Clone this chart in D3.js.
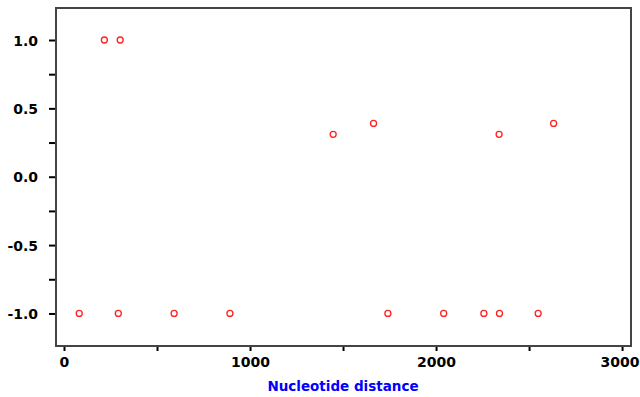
<!DOCTYPE html>
<html>
<head>
<meta charset="utf-8">
<script src="https://cdn.jsdelivr.net/npm/d3@7"></script>
<style>
  body { margin: 0; background: #fff; }
  .tick text { font-family: "DejaVu Sans", sans-serif; font-weight: bold; font-size: 14px; fill: #000; }
</style>
</head>
<body>
<script>
// nucleotide distance vs. value
var distances = [82, 217, 302, 292, 592, 892, 1447, 1664, 1741, 2041, 2257, 2341, 2339, 2549, 2632];
var values    = [-1, 1, 1, -1, -1, -1, 0.31, 0.39, -1, -1, -1, -1, 0.31, -1, 0.39];
var xTicks = [0, 500, 1000, 1500, 2000, 2500, 3000];
var yTicks = [-1, -0.75, -0.5, -0.25, 0, 0.25, 0.5, 0.75, 1];
var xLabel = "Nucleotide distance";

const margins = {top: 8, right: 9, bottom: 51, left: 56},
    width = 640 - margins.left - margins.right,
    height = 397 - margins.top - margins.bottom;

var svg = d3.select("body").append("svg")
    .attr("width", 640)
    .attr("height", 397);

var g = svg.append("g")
    .attr("transform", "translate(" + margins.left + "," + margins.top + ")");

var xScale = d3.scaleLinear().domain([-43, 3048]).range([0, width]);
var yScale = d3.scaleLinear().domain([-1.238, 1.234]).range([height, 0]);

// frame
g.append("rect")
    .attr("width", width)
    .attr("height", height)
    .attr("fill", "none")
    .attr("stroke", "#444")
    .attr("stroke-width", 2);

// x axis
var xAxis = g.append("g")
    .attr("transform", "translate(0," + (height + 1) + ")")
    .call(d3.axisBottom(xScale).tickValues(xTicks).tickSize(4).tickPadding(6)
        .tickFormat(function(d) { return d % 1000 === 0 ? d : ""; }));
xAxis.select(".domain").remove();
xAxis.selectAll(".tick line").attr("stroke", "#000").attr("stroke-width", 2);
// keep the last label inside the window
xAxis.selectAll(".tick text")
    .filter(function(d) { return d === 3000; })
    .attr("text-anchor", "end")
    .attr("dx", 640 - margins.left - xScale(3000) - 1);

// y axis
var yAxis = g.append("g")
    .attr("transform", "translate(-1,0)")
    .call(d3.axisLeft(yScale).tickValues(yTicks).tickSize(6).tickPadding(11)
        .tickFormat(function(d) { return d % 0.5 === 0 ? d3.format(".1f")(d).replace("−", "-") : ""; }));
yAxis.select(".domain").remove();
yAxis.selectAll(".tick line").attr("stroke", "#000").attr("stroke-width", 2);
yAxis.selectAll(".tick text").attr("dy", "0.36em");

// axis title
svg.append("text")
    .attr("x", 343)
    .attr("y", 391)
    .attr("text-anchor", "middle")
    .style("font-family", "DejaVu Sans, sans-serif")
    .style("font-weight", "bold")
    .style("font-size", "13.5px")
    .attr("fill", "#0000ff")
    .text(xLabel);

// points
g.selectAll("circle")
    .data(distances)
    .enter().append("circle")
    .attr("cx", function(d) { return xScale(d); })
    .attr("cy", function(d, i) { return yScale(values[i]); })
    .attr("r", 3)
    .attr("fill", "none")
    .attr("stroke", "#ff2020")
    .attr("stroke-width", 1.3);
</script>
</body>
</html>
